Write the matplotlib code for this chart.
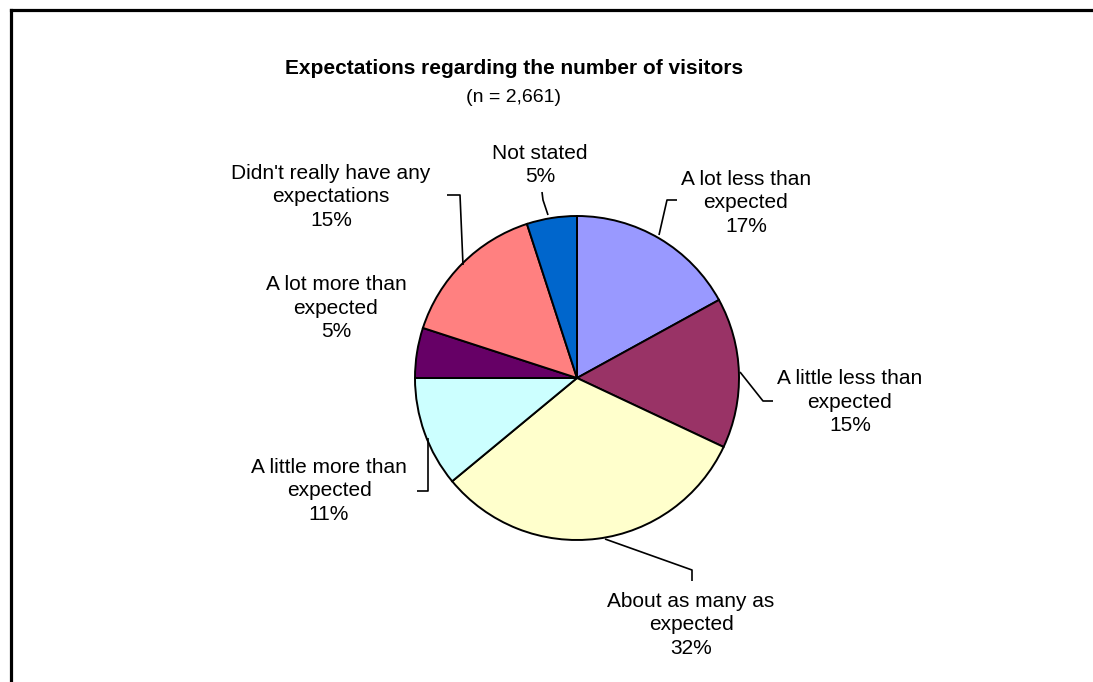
import matplotlib
matplotlib.use("Agg")
import matplotlib.pyplot as plt
from matplotlib.lines import Line2D

plt.rcParams['font.family'] = ['Liberation Sans', 'DejaVu Sans']

# Survey responses
categories = [
    "A lot less than\nexpected",
    "A little less than\nexpected",
    "About as many as\nexpected",
    "A little more than\nexpected",
    "A lot more than\nexpected",
    "Didn't really have any\nexpectations",
    "Not stated",
]
shares = [17, 15, 32, 11, 5, 15, 5]
colors = ["#9999FF", "#993366", "#FFFFCC", "#CCFFFF", "#660066", "#FF8080", "#0066CC"]

title = "Expectations regarding the number of visitors"
subtitle = "(n = 2,661)"

W, H = 1093, 682
fig = plt.figure(figsize=(W / 100, H / 100), dpi=100)
ax = fig.add_axes([0, 0, 1, 1])


def py(y):
    """Convert a top-down pixel row to the axes' bottom-up coordinate."""
    return H - y


cx, cy, r = 577, 378, 162
ax.pie(shares, colors=colors, startangle=90, counterclock=False,
       center=(cx, py(cy)), radius=r, frame=True,
       wedgeprops=dict(edgecolor="black", linewidth=1.4))
ax.set_xlim(0, W)
ax.set_ylim(0, H)
ax.set_aspect("equal")
ax.axis("off")

# Label anchor (centre of text block) and leader line path for each slice
label_pos = [(746, 203), (850, 402), (691, 625), (329, 491), (336, 308), (331, 197), (540, 165)]
leaders = [
    [(659, 235), (667, 200), (677, 200)],
    [(740, 372), (763, 401), (773, 401)],
    [(605, 539), (692, 570), (692, 581)],
    [(428, 438), (428, 491), (417, 491)],
    None,
    [(463, 265), (460, 195), (447, 195)],
    [(548, 215), (543, 200), (542, 192)],
]

for cat, val, (lx, ly), path in zip(categories, shares, label_pos, leaders):
    ax.text(lx, py(ly), f"{cat}\n{val}%", ha="center", va="center",
            fontsize=15, linespacing=1.3, color="black")
    if path:
        xs = [p[0] for p in path]
        ys = [py(p[1]) for p in path]
        ax.plot(xs, ys, color="black", lw=1.2, solid_capstyle="butt")

ax.text(514, py(68), title, ha="center", va="center", fontsize=15, fontweight="bold")
ax.text(514, py(97), subtitle, ha="center", va="center", fontsize=14)

# Chart area frame (left and top edges)
ax.add_line(Line2D([10.5, 10.5], [0, py(9.5)], color="black", lw=2.3, solid_capstyle="projecting"))
ax.add_line(Line2D([10.5, W], [py(9.5), py(9.5)], color="black", lw=2.3, solid_capstyle="projecting"))

fig.savefig("out.png", dpi=100, facecolor="white")
